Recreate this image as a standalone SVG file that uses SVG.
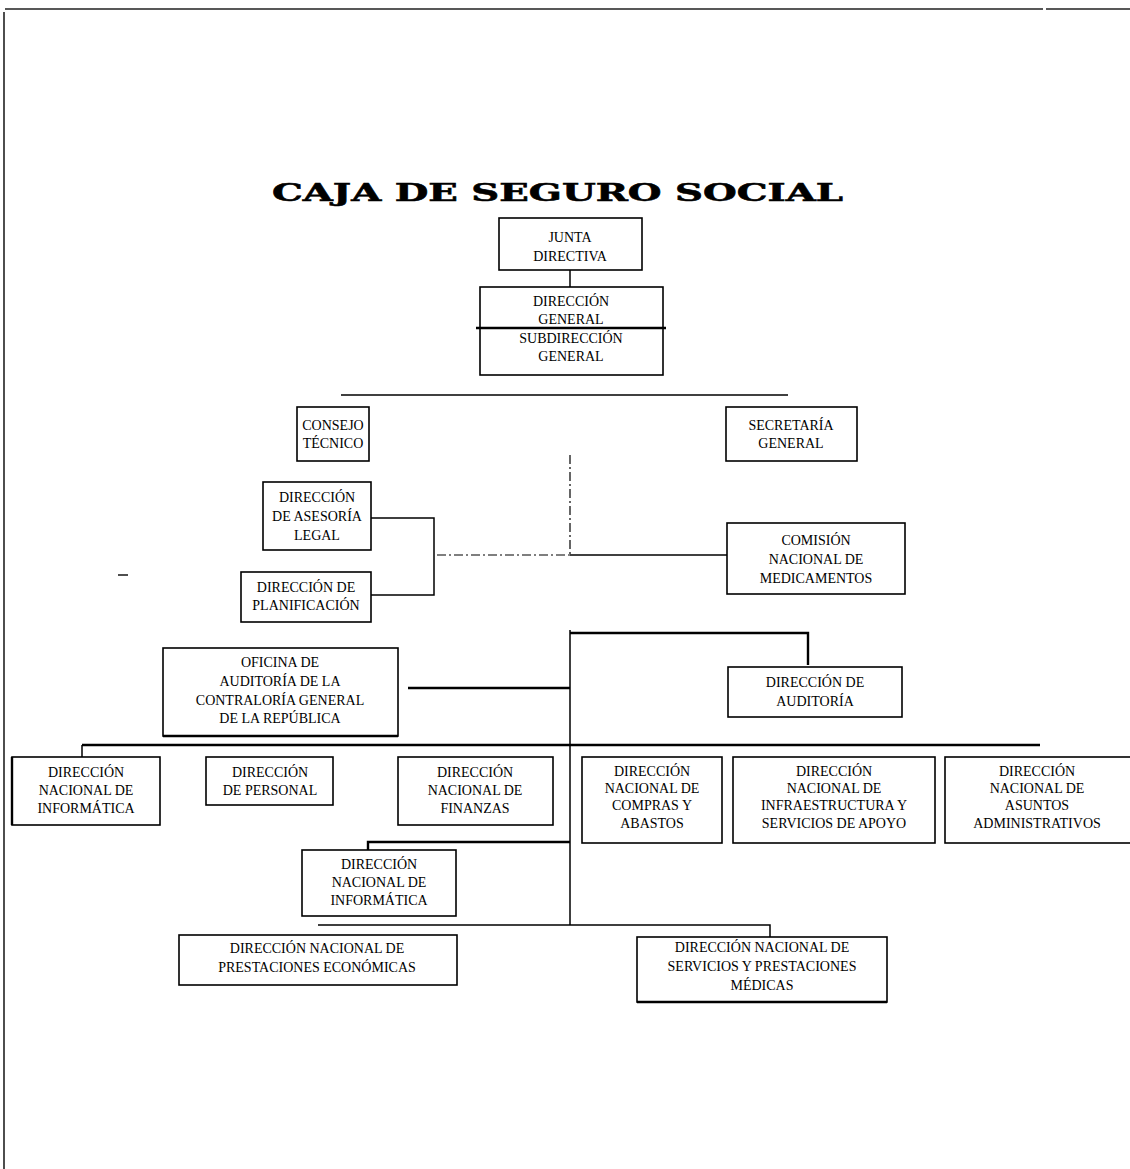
<svg xmlns="http://www.w3.org/2000/svg" width="1130" height="1169" viewBox="0 0 1130 1169">
<style>
.bg{fill:#fff}
.box{fill:#fff;stroke:#000;stroke-width:1.6}
.lbl{font-family:"Liberation Serif","Times New Roman",serif;font-size:14px;fill:#000;text-anchor:middle}
.ttl{font-family:"DejaVu Serif","Liberation Serif",serif;font-size:25px;font-weight:bold;fill:#000;stroke:#000;stroke-width:0.6}
.ln{fill:none;stroke:#000;stroke-width:1.5}
.th{fill:none;stroke:#000;stroke-width:2.4}
.dd{fill:none;stroke:#000;stroke-width:1.2;stroke-dasharray:9 3 2 3}
.frame{fill:none;stroke:#222;stroke-width:1.6}
</style>
<rect class="bg" x="0" y="0" width="1130" height="1169"/>
<g id="frame">
<path class="frame" d="M5,9 H1043 M1046,9 H1130 M4,12 V1169"/>
<path class="frame" d="M118,575 H128"/>
</g>
<text class="ttl" x="272" y="201" textLength="571" lengthAdjust="spacingAndGlyphs">CAJA DE SEGURO SOCIAL</text>
<g id="connectors">
<path class="ln" d="M570,270 V287"/>
<path class="ln" d="M341,395 H788"/>
<path class="dd" d="M570,455 V555"/>
<path class="dd" d="M437,555 H570"/>
<path class="ln" d="M570,555 H727"/>
<path class="ln" d="M371,518 H434 V595 H371"/>
<path class="ln" d="M570,630 V925"/>
<path class="th" d="M570,633 H808 V665"/>
<path class="th" d="M408,688 H570"/>
<path class="th" d="M82,745 H1040"/>
<path class="ln" d="M82,745 V757"/>
<path class="th" d="M570,842 H368 V850"/>
<path class="ln" d="M318,925 H770 V937"/>
</g>
<g id="junta">
<rect class="box" x="499" y="218" width="143" height="52"/>
<text class="lbl" x="570" y="242">JUNTA</text>
<text class="lbl" x="570" y="261">DIRECTIVA</text>
</g>
<g id="direccion-general">
<rect class="box" x="480" y="287" width="183" height="41"/>
<text class="lbl" x="571" y="306">DIRECCIÓN</text>
<text class="lbl" x="571" y="324">GENERAL</text>
</g>
<g id="subdireccion-general">
<rect class="box" x="480" y="328" width="183" height="47"/>
<path class="th" d="M476,328 H666"/>
<text class="lbl" x="571" y="343">SUBDIRECCIÓN</text>
<text class="lbl" x="571" y="361">GENERAL</text>
</g>
<g id="consejo">
<rect class="box" x="297" y="407" width="72" height="54"/>
<text class="lbl" x="333" y="430">CONSEJO</text>
<text class="lbl" x="333" y="448">TÉCNICO</text>
</g>
<g id="secretaria">
<rect class="box" x="726" y="407" width="131" height="54"/>
<text class="lbl" x="791" y="430">SECRETARÍA</text>
<text class="lbl" x="791" y="448">GENERAL</text>
</g>
<g id="asesoria">
<rect class="box" x="263" y="482" width="108" height="68"/>
<text class="lbl" x="317" y="502">DIRECCIÓN</text>
<text class="lbl" x="317" y="521">DE ASESORÍA</text>
<text class="lbl" x="317" y="540">LEGAL</text>
</g>
<g id="planificacion">
<rect class="box" x="241" y="572" width="130" height="50"/>
<text class="lbl" x="306" y="592">DIRECCIÓN DE</text>
<text class="lbl" x="306" y="610">PLANIFICACIÓN</text>
</g>
<g id="comision">
<rect class="box" x="727" y="523" width="178" height="71"/>
<text class="lbl" x="816" y="545">COMISIÓN</text>
<text class="lbl" x="816" y="564">NACIONAL DE</text>
<text class="lbl" x="816" y="583">MEDICAMENTOS</text>
</g>
<g id="oficina-auditoria">
<rect class="box" x="163" y="648" width="235" height="88"/>
<path class="th" d="M163,736 H398"/>
<text class="lbl" x="280" y="667">OFICINA DE</text>
<text class="lbl" x="280" y="686">AUDITORÍA DE LA</text>
<text class="lbl" x="280" y="705">CONTRALORÍA GENERAL</text>
<text class="lbl" x="280" y="723">DE LA REPÚBLICA</text>
</g>
<g id="direccion-auditoria">
<rect class="box" x="728" y="667" width="174" height="50"/>
<text class="lbl" x="815" y="687">DIRECCIÓN DE</text>
<text class="lbl" x="815" y="706">AUDITORÍA</text>
</g>
<g id="informatica-1">
<rect class="box" x="12" y="757" width="148" height="68"/>
<path class="th" d="M12,757 V825"/>
<text class="lbl" x="86" y="777">DIRECCIÓN</text>
<text class="lbl" x="86" y="795">NACIONAL DE</text>
<text class="lbl" x="86" y="813">INFORMÁTICA</text>
</g>
<g id="personal">
<rect class="box" x="206" y="757" width="127" height="48"/>
<text class="lbl" x="270" y="777">DIRECCIÓN</text>
<text class="lbl" x="270" y="795">DE PERSONAL</text>
</g>
<g id="finanzas">
<rect class="box" x="398" y="757" width="155" height="68"/>
<text class="lbl" x="475" y="777">DIRECCIÓN</text>
<text class="lbl" x="475" y="795">NACIONAL DE</text>
<text class="lbl" x="475" y="813">FINANZAS</text>
</g>
<g id="compras">
<rect class="box" x="582" y="757" width="140" height="86"/>
<text class="lbl" x="652" y="776">DIRECCIÓN</text>
<text class="lbl" x="652" y="793">NACIONAL DE</text>
<text class="lbl" x="652" y="810">COMPRAS Y</text>
<text class="lbl" x="652" y="828">ABASTOS</text>
</g>
<g id="infraestructura">
<rect class="box" x="733" y="757" width="202" height="86"/>
<text class="lbl" x="834" y="776">DIRECCIÓN</text>
<text class="lbl" x="834" y="793">NACIONAL DE</text>
<text class="lbl" x="834" y="810">INFRAESTRUCTURA Y</text>
<text class="lbl" x="834" y="828">SERVICIOS DE APOYO</text>
</g>
<g id="asuntos">
<rect class="box" x="945" y="757" width="190" height="86"/>
<text class="lbl" x="1037" y="776">DIRECCIÓN</text>
<text class="lbl" x="1037" y="793">NACIONAL DE</text>
<text class="lbl" x="1037" y="810">ASUNTOS</text>
<text class="lbl" x="1037" y="828">ADMINISTRATIVOS</text>
</g>
<g id="informatica-2">
<rect class="box" x="302" y="850" width="154" height="66"/>
<text class="lbl" x="379" y="869">DIRECCIÓN</text>
<text class="lbl" x="379" y="887">NACIONAL DE</text>
<text class="lbl" x="379" y="905">INFORMÁTICA</text>
</g>
<g id="prestaciones-economicas">
<rect class="box" x="179" y="935" width="278" height="50"/>
<text class="lbl" x="317" y="953">DIRECCIÓN NACIONAL DE</text>
<text class="lbl" x="317" y="972">PRESTACIONES ECONÓMICAS</text>
</g>
<g id="servicios-medicos">
<rect class="box" x="637" y="937" width="250" height="65"/>
<path class="th" d="M637,1002 H887"/>
<text class="lbl" x="762" y="952">DIRECCIÓN NACIONAL DE</text>
<text class="lbl" x="762" y="971">SERVICIOS Y PRESTACIONES</text>
<text class="lbl" x="762" y="990">MÉDICAS</text>
</g>
</svg>
